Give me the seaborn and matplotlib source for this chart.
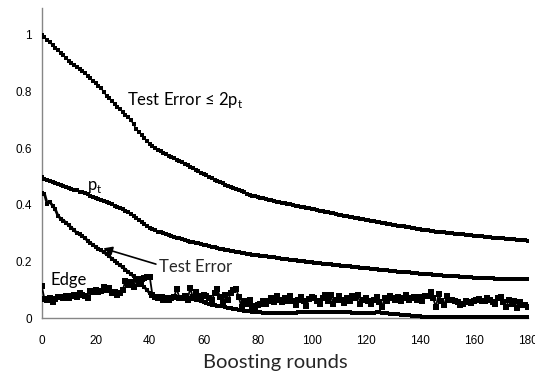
import numpy as np
import pandas as pd
import matplotlib
matplotlib.use("Agg")
import matplotlib.pyplot as plt
import seaborn as sns

# values, one per boosting round (0..180)
rounds = list(range(181))

bound_2pt = [
    1.000, 0.992, 0.983, 0.974, 0.963, 0.953, 0.945, 0.937, 0.928, 0.918,
    0.909, 0.900, 0.893, 0.886, 0.879, 0.872, 0.865, 0.856, 0.847, 0.838,
    0.829, 0.820, 0.812, 0.798, 0.785, 0.776, 0.766, 0.757, 0.747, 0.738,
    0.728, 0.719, 0.709, 0.700, 0.684, 0.668, 0.658, 0.647, 0.636, 0.625,
    0.615, 0.608, 0.601, 0.594, 0.589, 0.584, 0.579, 0.574, 0.569, 0.564,
    0.559, 0.555, 0.550, 0.545, 0.540, 0.535, 0.530, 0.525, 0.519, 0.514,
    0.509, 0.504, 0.499, 0.494, 0.489, 0.484, 0.480, 0.476, 0.472, 0.468,
    0.464, 0.460, 0.456, 0.452, 0.448, 0.444, 0.440, 0.436, 0.433, 0.430,
    0.428, 0.425, 0.423, 0.420, 0.418, 0.416, 0.414, 0.412, 0.410, 0.408,
    0.406, 0.404, 0.402, 0.400, 0.398, 0.396, 0.394, 0.392, 0.390, 0.388,
    0.386, 0.384, 0.382, 0.380, 0.378, 0.376, 0.374, 0.372, 0.370, 0.368,
    0.366, 0.364, 0.362, 0.360, 0.358, 0.357, 0.355, 0.353, 0.351, 0.349,
    0.348, 0.347, 0.345, 0.343, 0.341, 0.339, 0.338, 0.336, 0.334, 0.332,
    0.331, 0.329, 0.327, 0.326, 0.324, 0.322, 0.321, 0.319, 0.318, 0.316,
    0.315, 0.313, 0.312, 0.310, 0.309, 0.307, 0.306, 0.305, 0.304, 0.303,
    0.302, 0.301, 0.300, 0.299, 0.298, 0.297, 0.296, 0.295, 0.294, 0.293,
    0.292, 0.291, 0.290, 0.289, 0.288, 0.287, 0.286, 0.285, 0.284, 0.283,
    0.283, 0.282, 0.281, 0.280, 0.279, 0.279, 0.278, 0.277, 0.276, 0.275,
    0.274,
]

p_t = [
    0.497, 0.493, 0.489, 0.486, 0.482, 0.478, 0.475, 0.471, 0.468, 0.464,
    0.461, 0.457, 0.454, 0.451, 0.447, 0.444, 0.441, 0.437, 0.433, 0.429,
    0.425, 0.421, 0.417, 0.413, 0.410, 0.406, 0.402, 0.398, 0.394, 0.389,
    0.384, 0.379, 0.374, 0.368, 0.361, 0.354, 0.347, 0.339, 0.332, 0.325,
    0.318, 0.314, 0.310, 0.306, 0.303, 0.300, 0.297, 0.294, 0.291, 0.288,
    0.285, 0.282, 0.279, 0.276, 0.274, 0.271, 0.269, 0.266, 0.264, 0.261,
    0.259, 0.257, 0.254, 0.252, 0.250, 0.248, 0.246, 0.244, 0.242, 0.240,
    0.238, 0.236, 0.234, 0.233, 0.231, 0.230, 0.228, 0.227, 0.225, 0.224,
    0.223, 0.221, 0.220, 0.219, 0.217, 0.216, 0.215, 0.213, 0.212, 0.211,
    0.210, 0.208, 0.207, 0.206, 0.205, 0.203, 0.202, 0.201, 0.200, 0.199,
    0.198, 0.196, 0.195, 0.194, 0.193, 0.192, 0.191, 0.190, 0.189, 0.188,
    0.187, 0.186, 0.185, 0.184, 0.183, 0.182, 0.181, 0.180, 0.179, 0.178,
    0.177, 0.176, 0.175, 0.174, 0.173, 0.172, 0.171, 0.170, 0.169, 0.168,
    0.167, 0.166, 0.165, 0.165, 0.164, 0.163, 0.162, 0.161, 0.160, 0.159,
    0.158, 0.158, 0.157, 0.156, 0.155, 0.154, 0.153, 0.153, 0.152, 0.151,
    0.150, 0.150, 0.149, 0.148, 0.148, 0.147, 0.146, 0.146, 0.145, 0.145,
    0.144, 0.144, 0.143, 0.143, 0.142, 0.142, 0.141, 0.141, 0.140, 0.140,
    0.140, 0.139, 0.139, 0.139, 0.138, 0.138, 0.138, 0.137, 0.137, 0.137,
    0.137,
]

test_error = [
    0.443, 0.440, 0.405, 0.410, 0.398, 0.385, 0.362, 0.352, 0.345, 0.338,
    0.328, 0.320, 0.310, 0.302, 0.296, 0.290, 0.283, 0.274, 0.266, 0.259,
    0.252, 0.246, 0.240, 0.233, 0.226, 0.219, 0.211, 0.203, 0.195, 0.187,
    0.180, 0.172, 0.164, 0.156, 0.148, 0.139, 0.130, 0.120, 0.110, 0.100,
    0.088, 0.083, 0.080, 0.079, 0.078, 0.077, 0.076, 0.075, 0.075, 0.074,
    0.073, 0.072, 0.072, 0.071, 0.070, 0.069, 0.068, 0.066, 0.063, 0.060,
    0.057, 0.054, 0.051, 0.048, 0.046, 0.045, 0.043, 0.042, 0.040, 0.038,
    0.036, 0.034, 0.032, 0.030, 0.028, 0.027, 0.026, 0.025, 0.024, 0.023,
    0.022, 0.021, 0.020, 0.020, 0.019, 0.019, 0.019, 0.019, 0.019, 0.019,
    0.019, 0.020, 0.020, 0.020, 0.020, 0.021, 0.021, 0.021, 0.021, 0.022,
    0.022, 0.022, 0.022, 0.022, 0.023, 0.023, 0.023, 0.023, 0.024, 0.024,
    0.024, 0.024, 0.023, 0.022, 0.021, 0.020, 0.019, 0.018, 0.018, 0.018,
    0.019, 0.019, 0.020, 0.020, 0.021, 0.021, 0.020, 0.019, 0.018, 0.017,
    0.016, 0.015, 0.014, 0.013, 0.012, 0.011, 0.010, 0.009, 0.008, 0.007,
    0.007, 0.006, 0.006, 0.006, 0.006, 0.006, 0.005, 0.005, 0.005, 0.005,
    0.005, 0.005, 0.005, 0.005, 0.005, 0.005, 0.005, 0.005, 0.005, 0.005,
    0.005, 0.005, 0.005, 0.005, 0.005, 0.005, 0.005, 0.005, 0.005, 0.005,
    0.005, 0.005, 0.005, 0.005, 0.005, 0.005, 0.005, 0.005, 0.005, 0.005,
    0.005,
]

edge = [
    0.114, 0.068, 0.065, 0.070, 0.059, 0.068, 0.074, 0.076, 0.070, 0.080,
    0.070, 0.078, 0.082, 0.076, 0.088, 0.082, 0.078, 0.070, 0.098, 0.092,
    0.100, 0.094, 0.098, 0.112, 0.100, 0.106, 0.088, 0.094, 0.082, 0.090,
    0.100, 0.132, 0.118, 0.128, 0.110, 0.140, 0.120, 0.138, 0.142, 0.145,
    0.147, 0.082, 0.076, 0.070, 0.072, 0.066, 0.070, 0.064, 0.072, 0.076,
    0.104, 0.072, 0.070, 0.078, 0.066, 0.106, 0.074, 0.094, 0.080, 0.072,
    0.084, 0.078, 0.072, 0.064, 0.090, 0.104, 0.076, 0.058, 0.084, 0.066,
    0.088, 0.100, 0.104, 0.074, 0.040, 0.060, 0.052, 0.066, 0.044, 0.040,
    0.046, 0.052, 0.060, 0.050, 0.062, 0.070, 0.058, 0.080, 0.064, 0.056,
    0.070, 0.062, 0.078, 0.060, 0.048, 0.066, 0.074, 0.060, 0.044, 0.068,
    0.076, 0.070, 0.060, 0.052, 0.072, 0.082, 0.062, 0.084, 0.050, 0.064,
    0.080, 0.066, 0.054, 0.072, 0.060, 0.078, 0.070, 0.084, 0.052, 0.066,
    0.072, 0.060, 0.050, 0.064, 0.076, 0.058, 0.040, 0.070, 0.062, 0.080,
    0.072, 0.066, 0.076, 0.060, 0.070, 0.082, 0.064, 0.072, 0.076, 0.066,
    0.074, 0.062, 0.080, 0.078, 0.094, 0.070, 0.040, 0.086, 0.060, 0.046,
    0.078, 0.064, 0.066, 0.060, 0.058, 0.046, 0.050, 0.062, 0.058, 0.054,
    0.062, 0.064, 0.068, 0.062, 0.060, 0.070, 0.066, 0.058, 0.050, 0.072,
    0.074, 0.056, 0.040, 0.064, 0.052, 0.062, 0.038, 0.058, 0.048, 0.046,
    0.040,
]

x_ticks = [0, 20, 40, 60, 80, 100, 120, 140, 160, 180]
y_ticks = [0, 0.2, 0.4, 0.6, 0.8, 1]
y_tick_labels = ["0", "0.2", "0.4", "0.6", "0.8", "1"]

df = pd.DataFrame({"round": rounds, "bound": bound_2pt, "p_t": p_t,
                   "test_error": test_error, "edge": edge})

sns.set_style("white")
plt.rcParams["font.family"] = ["Lato", "DejaVu Sans"]
plt.rcParams["mathtext.fontset"] = "custom"
plt.rcParams["mathtext.rm"] = "Lato"

fig = plt.figure(figsize=(5.35, 3.73), dpi=100)
ax = fig.add_axes([0.078, 0.1466, 0.9084, 0.832])

sns.lineplot(data=df, x="round", y="bound", ax=ax, color="black", lw=1.0,
             marker="s", markersize=2.6, markeredgewidth=0)
sns.lineplot(data=df, x="round", y="p_t", ax=ax, color="black", lw=1.2,
             marker="s", markersize=2.8, markeredgewidth=0)
sns.lineplot(data=df, x="round", y="test_error", ax=ax, color="black", lw=2.0,
             marker="s", markersize=2.2, markeredgewidth=0)
sns.lineplot(data=df, x="round", y="edge", ax=ax, color="black", lw=1.3,
             marker="s", markersize=3.8, markeredgewidth=0)

ax.set_xlim(0, 180)
ax.set_ylim(0, 1.095)
ax.set_xticks(x_ticks)
ax.set_yticks(y_ticks)
ax.set_yticklabels(y_tick_labels)
for side in ["top", "right"]:
    ax.spines[side].set_visible(False)
for side in ["left", "bottom"]:
    ax.spines[side].set_color("#868686")
    ax.spines[side].set_linewidth(1.0)
    ax.spines[side].set_zorder(0)
ax.tick_params(axis="both", direction="out", length=4, width=1, color="#868686",
               labelsize=8.5, labelcolor="black",
               labelfontfamily="Liberation Sans")
ax.tick_params(axis="x", pad=8)
ax.tick_params(axis="y", pad=3)
ax.set_ylabel("")
ax.set_xlabel("Boosting rounds", fontsize=14.5)
ax.xaxis.set_label_coords(0.48, -0.115)

txt_kw = dict(fontsize=12, color="black", va="baseline", ha="left")
ax.text(31.6, 0.753, r"Test Error ≤ 2p$_\mathregular{t}$", **txt_kw)
ax.text(16.8, 0.453, r"p$_\mathregular{t}$", **txt_kw)
ax.text(3.1, 0.1175, "Edge", **txt_kw)
ax.annotate("Test Error", xy=(22.8, 0.247), xytext=(43.5, 0.1645),
            fontsize=12, va="baseline", ha="left",
            arrowprops=dict(arrowstyle="-|>", color="black", lw=1.2,
                            mutation_scale=13, shrinkA=0, shrinkB=0,
                            relpos=(0, 0.6)))

fig.savefig("out.png", dpi=100)
